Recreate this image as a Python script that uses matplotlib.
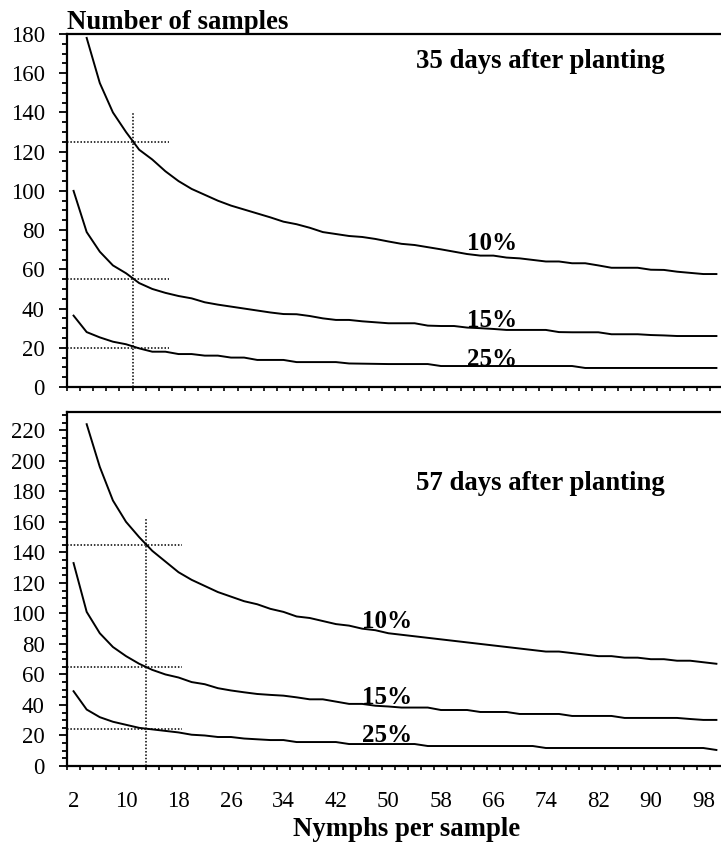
import numpy as np
import matplotlib.pyplot as plt
from matplotlib.ticker import MultipleLocator

plt.rcParams['font.family'] = ['Liberation Serif', 'DejaVu Serif']

# nymphs per sample (categories 2, 4, ..., 100)
nymphs = list(range(2, 101, 2))

# 35 days after planting
top_10 = [np.nan, 178, 155, 140, 130, 121, 116, 110, 105, 101,
          98, 95, 92.5, 90.5, 88.5, 86.5, 84.3, 83, 81.2, 79,
          78, 77, 76.5, 75.5, 74.2, 73, 72.4, 71.3, 70.2, 69,
          67.8, 67, 67, 66, 65.6, 64.8, 64, 64, 63.1, 63.1,
          62, 60.8, 60.8, 60.8, 59.8, 59.7, 58.8, 58.2, 57.6, 57.6]
top_15 = [100, 79, 69, 62, 58, 53, 50, 48, 46.4, 45.2,
          43.2, 42, 41, 40, 39, 38, 37.2, 37.1, 36.2, 35,
          34.2, 34.2, 33.5, 33, 32.5, 32.5, 32.5, 31.3, 31.1, 31.1,
          30.3, 30, 29.6, 29.1, 29.1, 29.1, 29.1, 28, 27.9, 27.9,
          27.9, 26.9, 26.9, 26.9, 26.5, 26.3, 26, 26, 26, 26]
top_25 = [36.4, 28, 25.3, 23.1, 21.8, 19.7, 18, 18, 16.8, 16.8,
          16, 16, 15, 15, 13.8, 13.8, 13.8, 12.7, 12.7, 12.7,
          12.7, 12, 11.9, 11.8, 11.7, 11.7, 11.7, 11.7, 10.7, 10.7,
          10.7, 10.7, 10.7, 10.7, 10.7, 10.7, 10.7, 10.7, 10.7, 9.7,
          9.7, 9.7, 9.7, 9.7, 9.7, 9.7, 9.7, 9.7, 9.7, 9.7]

# 57 days after planting
bot_10 = [np.nan, 224, 196, 174, 160, 150, 141, 134, 127, 122,
          118, 114, 111, 108, 106, 103, 101, 98, 97, 95,
          93, 92, 90, 89, 87, 86, 85, 84, 83, 82,
          81, 80, 79, 78, 77, 76, 75, 75, 74, 73,
          72, 72, 71, 71, 70, 70, 69, 69, 68, 67]
bot_15 = [133, 101, 87, 78, 72, 67, 63, 60, 58, 55,
          53.6, 51, 49.5, 48.3, 47.2, 46.6, 46.1, 45, 43.7, 43.7,
          42.2, 40.7, 40.7, 39.5, 39, 38.3, 38.3, 38.3, 36.7, 36.7,
          36.7, 35.4, 35.4, 35.4, 34.1, 34.1, 34.1, 34.1, 32.8, 32.8,
          32.8, 32.8, 31.5, 31.5, 31.5, 31.5, 31.5, 30.8, 30.2, 30.2]
bot_25 = [49, 37, 32, 29, 27, 25, 24, 23, 22, 20.5,
          20, 19, 19, 18, 17.5, 17, 17, 15.7, 15.7, 15.7,
          15.7, 14.4, 14.4, 14.4, 14.4, 14.4, 14.4, 13.1, 13.1, 13.1,
          13.1, 13.1, 13.1, 13.1, 13.1, 13.1, 11.8, 11.8, 11.8, 11.8,
          11.8, 11.8, 11.8, 11.8, 11.8, 11.8, 11.8, 11.8, 11.8, 10.5]

# reading guides: (x of vertical, top of vertical, horizontal levels)
top_guide_x, top_guide_top, top_guide_levels = 11, 140, [125, 55, 20]
bot_guide_x, bot_guide_top, bot_guide_levels = 13, 162, [145, 65, 24]

fig = plt.figure(figsize=(7.21, 8.44), dpi=100)
ax1 = fig.add_axes([67/721, 1-387/844, 654/721, 353/844])
ax2 = fig.add_axes([67/721, 1-766/844, 654/721, 354/844])


def style(ax, ymax, show_labels):
    ax.set_xlim(1, 100.7)
    ax.set_ylim(0, ymax)
    ax.spines['right'].set_visible(False)
    for s in ['left', 'bottom', 'top']:
        ax.spines[s].set_linewidth(1.6)
    ax.yaxis.set_major_locator(MultipleLocator(20))
    ax.yaxis.set_minor_locator(MultipleLocator(5))
    ax.tick_params(axis='y', which='major', direction='out', length=6,
                   width=1.3, labelsize=16.5, pad=10)
    ax.tick_params(axis='y', which='minor', direction='out', length=3.5, width=1.3)
    ax.set_xticks(range(2, 99, 8))
    ax.set_xticks(range(1, 101, 2), minor=True)
    ax.tick_params(axis='x', which='major', length=0, labelsize=16.5, pad=18,
                   labelbottom=show_labels)
    ax.tick_params(axis='x', which='minor', direction='out', length=3, width=1.2)


def guides(ax, gx, gtop, levels):
    ax.plot([gx, gx], [0, gtop], color='black', ls=(0, (1, 1.2)), lw=1.1)
    for lv in levels:
        ax.plot([1, gx + 5.6], [lv, lv], color='black', ls=(0, (1, 1.2)), lw=1.1)


for ax, series in [(ax1, [top_10, top_15, top_25]), (ax2, [bot_10, bot_15, bot_25])]:
    for s in series:
        ax.plot(nymphs, s, color='black', lw=1.4)

style(ax1, 180, False)
style(ax2, 232, True)
guides(ax1, top_guide_x, top_guide_top, top_guide_levels)
guides(ax2, bot_guide_x, bot_guide_top, bot_guide_levels)

pct = dict(fontsize=18, fontweight='bold', color='black')
ax1.text(62, 70, '10%', **pct)
ax1.text(62, 30.8, '15%', **pct)
ax1.text(62, 10.9, '25%', **pct)
ax2.text(46, 90.5, '10%', **pct)
ax2.text(46, 40.7, '15%', **pct)
ax2.text(46, 16, '25%', **pct)

bold = dict(fontsize=19.3, fontweight='bold', color='black')
fig.text(416/721, 1-68/844, '35 days after planting', va='baseline', **bold)
fig.text(416/721, 1-490/844, '57 days after planting', va='baseline', **bold)
fig.text(67/721, 1-29/844, 'Number of samples', va='baseline', **bold)
fig.text(407/721, 1-830/844, 'Nymphs per sample', ha='center', va='center', **bold)

fig.savefig('out.png', dpi=100)
